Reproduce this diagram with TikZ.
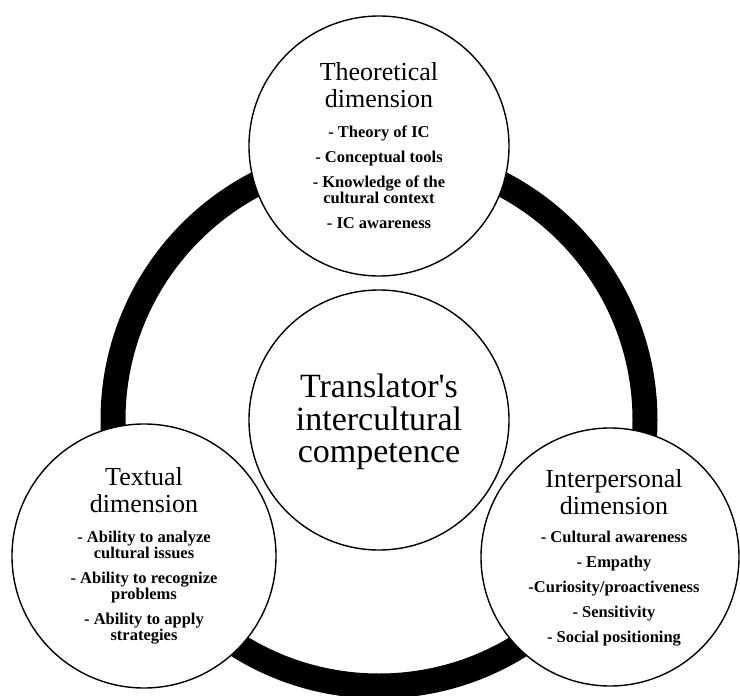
\documentclass[tikz,border=0pt]{standalone}
\usepackage{fontspec}
\setmainfont{Liberation Serif}
\usetikzlibrary{backgrounds}
\newcommand{\ringcolor}{black}
\newcommand{\ringwidth}{25pt}
\newcommand{\ringradius}{266pt}
\newcommand{\rimwidth}{1.4pt}
\tikzset{
  dim/.style={circle, draw, fill=white, line width=\rimwidth},
  dimtitle/.style={anchor=north, inner sep=0pt, align=center, font=\fontsize{26}{27}\selectfont},
  dimitems/.style={anchor=north, inner sep=0pt, align=center, font=\bfseries\fontsize{16.5}{16}\selectfont},
  coretext/.style={anchor=north, inner sep=0pt, align=center, font=\fontsize{34}{32.5}\selectfont}
}

\begin{document}
\begin{tikzpicture}[x=1pt,y=-1pt]
\useasboundingbox (0,0) rectangle (740,696);
\node[dim, minimum size=260pt] (core) at (379,420) {};
\node[dim, minimum size=260pt] (theo) at (379,146) {};
\node[dim, minimum size=264pt] (text) at (144,556) {};
\node[dim, minimum size=258pt] (inter) at (610,557) {};
%ring
\begin{scope}[on background layer]
\draw[\ringcolor] [line width = \ringwidth] (core.center) circle (\ringradius);
\end{scope}
%centre
\node[coretext] (coret) at (379,374) {Translator\textquotesingle s\\intercultural\\competence};
%theoretical
\node[dimtitle] (theot) at (379,62) {Theoretical\\dimension};
\node[dimitems] (theoi) at (379,125.5) {- Theory of IC\\[9pt]- Conceptual tools\\[9pt]- Knowledge of the\\cultural context\\[9pt]- IC awareness};
%textual
\node[dimtitle] (textt) at (144,467) {Textual\\dimension};
\node[dimitems] (texti) at (144,530.5) {- Ability to analyze\\cultural issues\\[9pt]- Ability to recognize\\problems\\[9pt]- Ability to apply\\strategies};
%interpersonal
\node[dimtitle] (intert) at (614,469) {Interpersonal\\dimension};
\node[dimitems] (interi) at (614,530.5) {- Cultural awareness\\[9pt]- Empathy\\[9pt]-Curiosity/proactiveness\\[9pt]- Sensitivity\\[9pt]- Social positioning};
\end{tikzpicture}
\end{document}
